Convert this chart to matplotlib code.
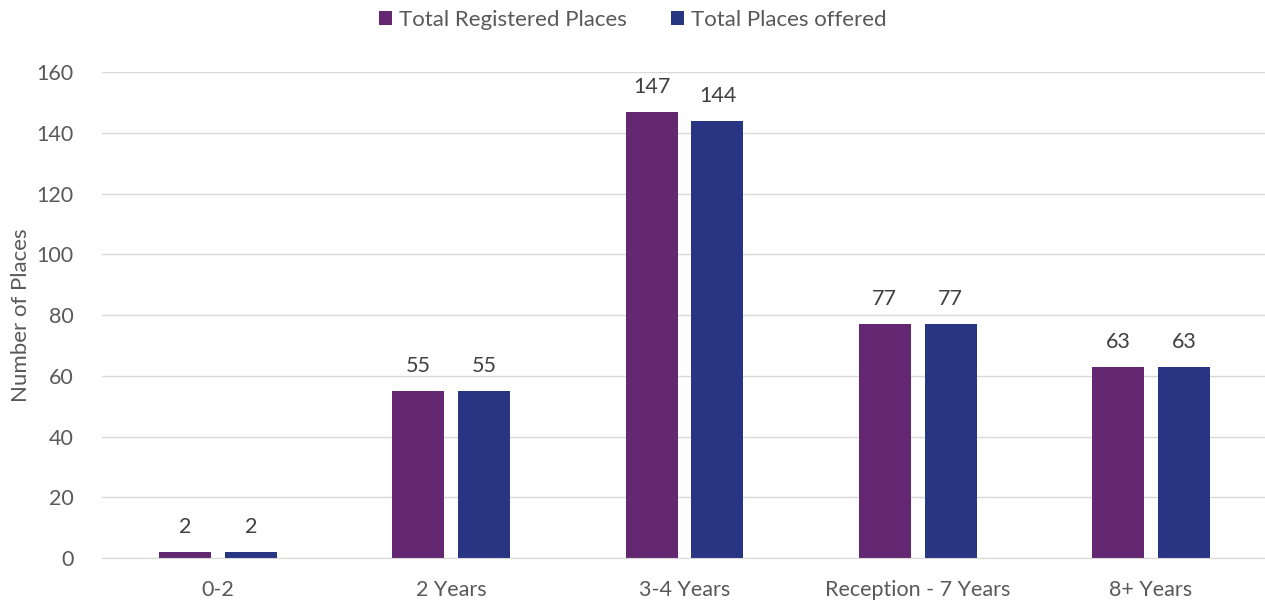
import numpy as np
import matplotlib
matplotlib.use('Agg')
import matplotlib.pyplot as plt

categories = ['0-2', '2 Years', '3-4 Years', 'Reception - 7 Years', '8+ Years']
registered = [2, 55, 147, 77, 63]
offered = [2, 55, 144, 77, 63]
series_names = ['Total Registered Places', 'Total Places offered']

plt.rcParams['font.family'] = ['Lato', 'DejaVu Sans']
text_color = '#595959'
purple = '#642873'
blue = '#283583'

fig = plt.figure(figsize=(12.65, 6.02), dpi=100)
ax = fig.add_axes([101.5 / 1265, 0.073, 1166 / 1265, 0.807])

x = np.arange(len(categories))
w = 0.223
gap = 0.06
b1 = ax.bar(x - (w + gap) / 2, registered, w, color=purple, label=series_names[0], zorder=3)
b2 = ax.bar(x + (w + gap) / 2, offered, w, color=blue, label=series_names[1], zorder=3)

for bars, vals in ((b1, registered), (b2, offered)):
    for rect, v in zip(bars, vals):
        ax.text(rect.get_x() + rect.get_width() / 2, v + 5, str(v),
                ha='center', va='bottom', fontsize=15.5, color='#404040')

ax.set_xlim(-0.5, len(categories) - 0.5)
ax.set_ylim(0, 160)
ax.set_yticks(range(0, 161, 20))
ax.set_xticks(x)
ax.set_xticklabels(categories)
ax.tick_params(axis='both', length=0, labelsize=15.5, colors=text_color)
ax.tick_params(axis='x', pad=16)
ax.tick_params(axis='y', pad=20)
ax.grid(axis='y', color='#d9d9d9', linewidth=1, zorder=0)
for s in ['top', 'right', 'left']:
    ax.spines[s].set_visible(False)
ax.spines['bottom'].set_color('#d9d9d9')
ax.spines['bottom'].set_zorder(4)

ax.set_ylabel('Number of Places', fontsize=16, color=text_color, labelpad=4)

leg = fig.legend(loc='upper center', bbox_to_anchor=(0.5, 1.017), ncol=2, frameon=False,
                 fontsize=16, handlelength=0.6, handleheight=0.6, handletextpad=0.3,
                 columnspacing=2.0)
for t in leg.get_texts():
    t.set_color(text_color)

plt.savefig('out.png', dpi=100)
